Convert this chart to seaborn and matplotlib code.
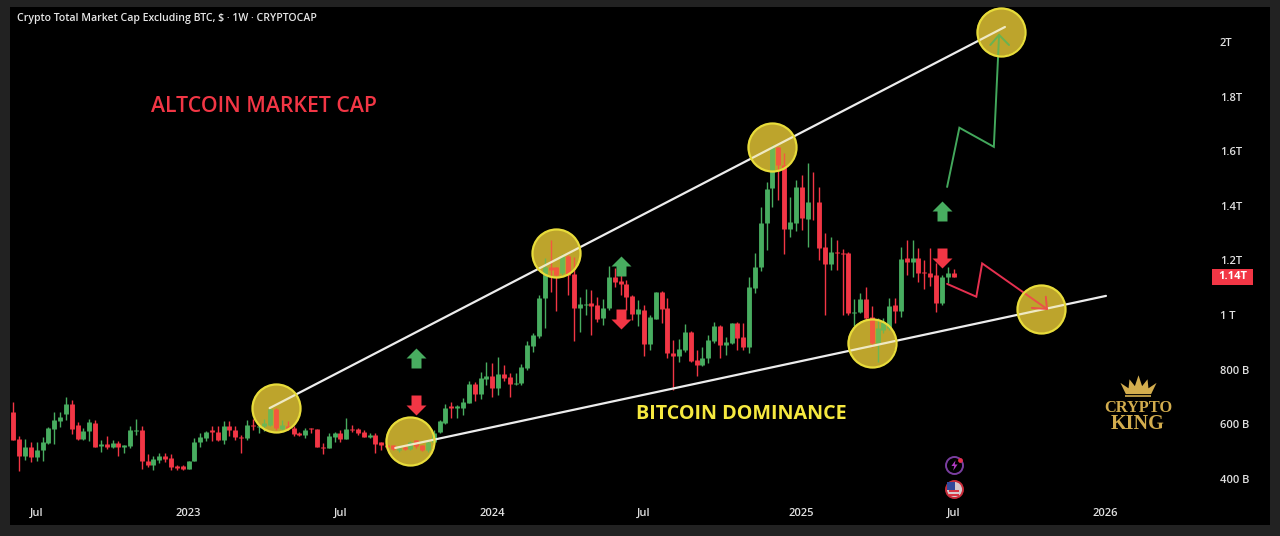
import numpy as np
import pandas as pd
import matplotlib
matplotlib.use("Agg")
import matplotlib.pyplot as plt
from matplotlib.path import Path
from matplotlib.patches import Rectangle
import seaborn as sns

opens = [644,546,485,518,479,504,531,583,611,636,
         675,598,544,575,606,521,526,516,532,515,
         520,574,579,465,449,470,485,476,446,446,
         437,467,533,550,577,572,543,593,579,553,
         549,596,591,592,598,656,582,595,585,568,
         561,585,581,518,512,552,567,546,584,581,
         573,552,562,533,524,522,506,518,510,542,
         522,506,536,570,603,665,658,658,677,746,
         710,765,777,732,784,774,746,750,805,887,
         923,1061,1177,1174,1153,1216,1149,1027,1037,1043,
         1037,988,1025,1141,1125,1114,1070,1003,1019,894,
         986,1086,1025,860,850,870,939,836,817,842,
         903,958,890,897,970,919,884,1100,1175,1336,
         1464,1614,1549,1314,1338,1468,1352,1415,1413,1248,
         1186,1231,1228,1226,1008,1010,1058,992,897,945,
         951,1035,1016,1208,1193,1208,1158,1155,1147,1043,
         1138,1155]
closes = [543,485,518,479,505,533,587,614,628,675,
          584,544,576,607,518,526,516,532,515,522,
          577,579,467,449,472,485,472,443,441,437,
          465,535,553,573,572,543,593,579,553,549,
          596,592,594,605,655,586,598,585,563,561,
          579,581,516,512,557,567,545,583,578,569,
          553,562,528,522,516,510,514,510,536,520,
          506,536,569,610,658,658,667,683,746,711,
          771,777,732,784,768,746,750,808,890,927,
          1064,1177,1165,1147,1216,1147,1027,1041,1041,1033,
          986,1026,1141,1120,1113,1065,1003,1021,894,991,
          1083,1022,860,850,875,939,833,817,844,909,
          958,890,901,970,915,884,1104,1177,1336,1461,
          1616,1549,1315,1339,1468,1354,1415,1413,1247,1187,
          1232,1226,1224,1006,1012,1058,988,897,951,975,
          1033,1016,1204,1193,1208,1155,1153,1141,1043,1141,
          1155,1138]
highs = [681,555,546,534,533,553,588,643,643,701,
         687,607,585,618,614,543,555,543,537,524,
         595,618,594,492,484,494,494,492,451,451,
         467,551,567,576,595,594,610,610,592,561,
         616,618,598,620,660,660,616,610,592,573,
         585,585,581,530,567,573,579,622,597,585,
         577,569,567,536,528,524,520,524,540,543,
         524,542,579,616,674,683,670,695,760,756,
         793,827,825,847,817,786,786,821,903,933,
         1074,1208,1275,1177,1225,1220,1214,1067,1094,1092,
         1067,1058,1180,1171,1180,1128,1073,1055,1037,1000,
         1085,1088,1061,909,911,967,942,870,882,927,
         976,964,921,972,976,972,1138,1228,1394,1488,
         1622,1616,1592,1431,1494,1513,1555,1525,1470,1299,
         1287,1275,1241,1232,1058,1082,1104,1033,988,988,
         1061,1064,1250,1275,1275,1244,1202,1244,1189,1147,
         1177,1167]
lows = [543,427,470,460,464,464,528,528,589,616,
        565,543,543,540,516,498,510,512,484,494,
        512,559,435,445,431,457,463,433,431,431,
        435,467,516,537,540,540,528,557,543,494,
        543,579,567,575,595,580,579,579,555,558,
        549,567,515,491,512,533,536,545,571,561,
        552,549,494,506,512,506,500,506,505,514,
        503,500,532,567,600,622,622,634,677,685,
        691,744,699,707,760,699,744,744,799,866,
        915,951,1086,1013,1146,1073,903,939,1000,927,
        976,964,1019,1104,1073,1019,982,960,848,872,
        984,972,844,726,829,866,829,775,815,823,
        897,844,854,895,872,870,862,1080,1163,1238,
        1394,1421,1222,1287,1309,1311,1250,1348,1202,1000,
        1165,1165,1000,1000,958,1006,982,884,829,933,
        945,970,994,1147,1138,1120,1094,1108,1010,1037,
        1116,1138]

x_tick_weeks = [4, 30, 56, 82, 108, 135, 161, 187]
x_tick_labels = ["Jul", "2023", "Jul", "2024", "Jul", "2025", "Jul", "2026"]
y_tick_values = [400, 600, 800, 1000, 1200, 1400, 1600, 1800, 2000]
y_tick_labels = ["400 B", "600 B", "800 B", "1 T", "1.2T", "1.4T", "1.6T", "1.8T", "2T"]

circle_weeks = [45.0, 67.9, 93.0, 129.9, 147.0, 169.1, 176.0]
circle_values = [659, 538, 1227, 1615, 897, 2037, 1022]
upper_trend_weeks = [43.9, 169.8]
upper_trend_values = [659, 2055]
lower_trend_weeks = [65.4, 187.1]
lower_trend_values = [513, 1070]
green_path_weeks = [159.9, 162.0, 167.9, 168.8]
green_path_values = [1469, 1686, 1616, 2026]
green_head_weeks = [167.3, 168.8, 170.5]
green_head_values = [1989, 2026, 1989]
red_path_weeks = [159.9, 164.9, 165.9, 177.0]
red_path_values = [1114, 1067, 1189, 1022]
red_head_weeks = [176.8, 177.0, 174.4]
red_head_values = [1067, 1022, 1026]
up_arrow_weeks = [68.9, 104.1, 159.0]
up_arrow_values = [842, 1179, 1381]
down_arrow_weeks = [68.9, 104.1, 159.0]
down_arrow_values = [670, 985, 1209]
last_price = 1140

BG = "#222222"
GREEN = "#48ad60"
RED = "#f23645"
FONT = "Open Sans"

sns.set_theme(style="dark", rc={"axes.grid": False, "axes.facecolor": "black", "figure.facecolor": BG})
plt.rcParams["font.family"] = [FONT, "DejaVu Sans"]

W, H = 1280, 536
fig = plt.figure(figsize=(W / 100, H / 100), dpi=100, facecolor=BG)
ax = fig.add_axes([10 / W, 1 - 525 / H, 1260 / W, 518 / H], facecolor="black")


def wk(px):
    return (px - 13.3) / 5.84


def val(py):
    return 1000 + (315 - py) * 3.663


df = pd.DataFrame({"week": np.arange(len(opens)), "o": opens, "h": highs, "l": lows, "c": closes})
df["dir"] = np.where(df.c >= df.o, "up", "down")
palette = {"up": GREEN, "down": RED}
wicks = df.melt(id_vars=["week", "dir"], value_vars=["h", "l"], value_name="price")
bodies = df.melt(id_vars=["week", "dir"], value_vars=["o", "c"], value_name="price")

yellow_base = (173 / 255, 150 / 255, 45 / 255, 1.0)
yellow_tint = (1.0, 225 / 255, 40 / 255, 0.2)
circle_s = 34.6 ** 2


def circles(zorder, face, edge, lw):
    sns.scatterplot(x=circle_weeks, y=circle_values, s=circle_s, color="gold",
                    edgecolor=edge, linewidth=lw, zorder=zorder, legend=False, ax=ax)
    ax.collections[-1].set_facecolor(face)
    ax.collections[-1].set_edgecolor(edge)


circles(1, yellow_base, "none", 0)
sns.lineplot(data=wicks, x="week", y="price", hue="dir", units="week", estimator=None, palette=palette,
             linewidth=1.0, legend=False, solid_capstyle="butt", zorder=2, ax=ax)
sns.lineplot(data=bodies, x="week", y="price", hue="dir", units="week", estimator=None, palette=palette,
             linewidth=3.5, legend=False, solid_capstyle="butt", zorder=3, ax=ax)


def path(xs, ys, color, lw):
    sns.lineplot(x=xs, y=ys, color=color, linewidth=lw, estimator=None, sort=False,
                 legend=False, zorder=4, ax=ax, solid_joinstyle="miter")


path(upper_trend_weeks, upper_trend_values, "#ececec", 1.6)
path(lower_trend_weeks, lower_trend_values, "#ececec", 1.6)
path(green_path_weeks, green_path_values, "#43a85c", 1.4)
path(green_head_weeks, green_head_values, "#43a85c", 1.4)
path(red_path_weeks, red_path_values, "#e5304f", 1.4)
path(red_head_weeks, red_head_values, "#e5304f", 1.4)
circles(5, yellow_tint, "#e8dc3a", 1.6)

up_marker = Path([(-1, 0), (0, 1), (1, 0), (0.5, 0), (0.5, -1), (-0.5, -1), (-0.5, 0), (-1, 0)], closed=True)
down_marker = Path([(-1, 0), (0, -1), (1, 0), (0.5, 0), (0.5, 1), (-0.5, 1), (-0.5, 0), (-1, 0)], closed=True)
sns.scatterplot(x=up_arrow_weeks, y=up_arrow_values, marker=up_marker, s=207, color=GREEN, linewidth=0,
                zorder=6, legend=False, ax=ax)
sns.scatterplot(x=down_arrow_weeks, y=down_arrow_values, marker=down_marker, s=207, color=RED, linewidth=0,
                zorder=6, legend=False, ax=ax)

ax.set_xlim(wk(10), wk(1270))
ax.set_ylim(val(525), val(7))
ax.set_xlabel("")
ax.set_ylabel("")
for s in ax.spines.values():
    s.set_visible(False)

ax.set_xticks(x_tick_weeks, x_tick_labels)
ax.set_yticks(y_tick_values, y_tick_labels)
ax.yaxis.tick_right()
ax.tick_params(axis="x", length=0, pad=-12.5, labelsize=8, labelcolor="#e0e0e0")
ax.tick_params(axis="y", length=0, pad=-36, labelsize=8, labelcolor="#e0e0e0")
for lab in ax.get_xticklabels() + ax.get_yticklabels():
    lab.set_fontweight("semibold")

# price tag
ax.add_patch(Rectangle((wk(1212), val(285)), wk(1253) - wk(1212), val(269) - val(285), facecolor=RED,
                       edgecolor="none", zorder=7))
ax.text(wk(1232.5), last_price, "1.14T", color="white", fontsize=8, fontweight="bold",
        ha="center", va="center", zorder=8)

fig.text(17 / W, 1 - 19 / H, "Crypto Total Market Cap Excluding BTC, $ · 1W · CRYPTOCAP", color="#e6e6e6",
         fontsize=7.6, fontweight="semibold", ha="left", va="center")
ax.text(wk(264), val(106.5), "ALTCOIN MARKET CAP", color=RED, fontsize=15.3,
        fontweight="semibold", ha="center", va="center", zorder=8)
ax.text(wk(741.5), val(414.5), "BITCOIN DOMINANCE", color="#f6e93f", fontsize=14.2,
        fontweight="bold", ha="center", va="center", zorder=8)

# logo
GOLD = "#d3ad4e"
logo_w = wk(1138)
crown = Path([(-1, 0.2), (-0.55, -0.1), (-0.5, 0.4), (-0.2, 0.02), (0, 0.62), (0.2, 0.02), (0.5, 0.4),
              (0.55, -0.1), (1, 0.2), (0.7, -0.42), (-0.7, -0.42), (-1, 0.2)], closed=True)
sns.scatterplot(x=[logo_w], y=[val(385.5)], marker=crown, s=676, color=GOLD, linewidth=0, zorder=6, legend=False, ax=ax)
sns.scatterplot(x=[logo_w], y=[val(395.5)], marker="_", s=360, color=GOLD, linewidth=1.2, zorder=6, legend=False, ax=ax)
ax.text(logo_w, val(408), "CRYPTO", color=GOLD, fontsize=11.8, fontweight="bold", family="Liberation Serif",
        ha="center", va="center", zorder=8)
ax.text(logo_w, val(424), "KING", color=GOLD, fontsize=14.5, fontweight="bold", family="Liberation Serif",
        ha="center", va="center", zorder=8)

# badges
bx = wk(953.5)
bolt = Path([(0.2, 1), (-0.6, -0.1), (-0.05, -0.1), (-0.25, -1), (0.6, 0.2), (0.05, 0.2), (0.2, 1)], closed=True)
sns.scatterplot(x=[bx], y=[val(465)], marker="o", s=150, color="black", edgecolor="#7a3ea0",
                linewidth=1.4, zorder=6, legend=False, ax=ax)
sns.scatterplot(x=[bx], y=[val(465)], marker=bolt, s=55, color="#b23cc4", linewidth=0, zorder=8, legend=False, ax=ax)
sns.scatterplot(x=[wk(959.5)], y=[val(459.5)], marker="o", s=12, color="#e5304f", linewidth=0,
                zorder=8, legend=False, ax=ax)
sns.scatterplot(x=[bx], y=[val(489)], marker="o", s=150, color="#d8c8cc", edgecolor="#c92c3a",
                linewidth=1.4, zorder=6, legend=False, ax=ax)
for py in (491, 495):
    sns.scatterplot(x=[bx], y=[val(py)], marker="_", s=60, color="#d9303f", linewidth=1.4,
                    zorder=7, legend=False, ax=ax)
sns.scatterplot(x=[wk(951)], y=[val(485.5)], marker="s", s=30, color="#33489a", linewidth=0,
                zorder=8, legend=False, ax=ax)

fig.savefig("out.png", dpi=100, facecolor=BG)
